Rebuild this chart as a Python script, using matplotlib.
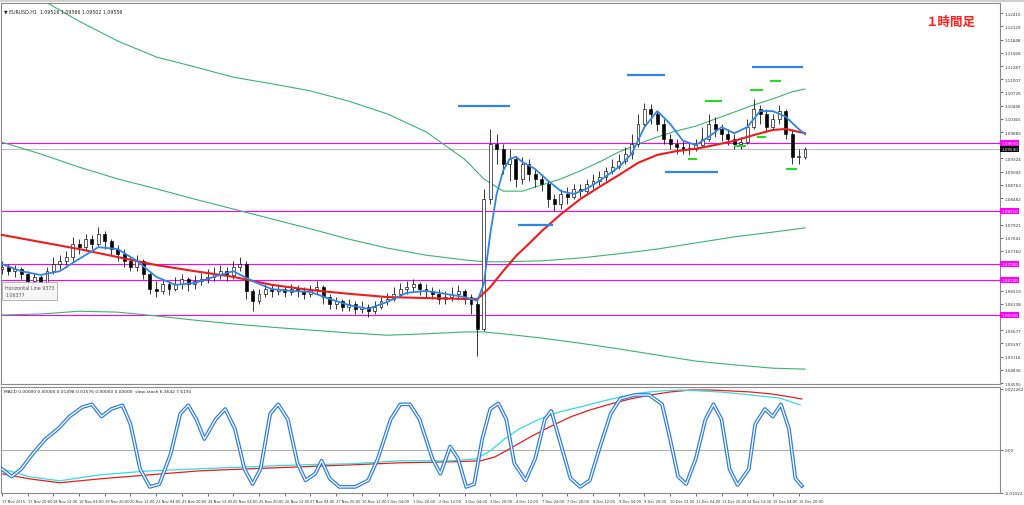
import matplotlib
matplotlib.use("Agg")
import matplotlib.pyplot as plt
import matplotlib.transforms as mtransforms
import numpy as np

# ---------------- data (EURUSD H1, sampled every 4 hours) ----------------
bar_hours = list(range(0, 504, 4))          # hours since 17 Nov 04:00 (trading hours)
open_first = 1.0698
closes = [1.0702, 1.0693, 1.0698, 1.0687, 1.0672, 1.0681, 1.0666, 1.0693, 1.0708, 1.0715,
          1.0723, 1.0751, 1.0744, 1.0761, 1.0751, 1.0772, 1.0757, 1.0740, 1.0730, 1.0715,
          1.0702, 1.0715, 1.0687, 1.0655, 1.0651, 1.0666, 1.0655, 1.0666, 1.0676, 1.0666,
          1.0672, 1.0676, 1.0681, 1.0687, 1.0693, 1.0685, 1.0702, 1.0708, 1.0651, 1.0630,
          1.0645, 1.0655, 1.0651, 1.0655, 1.0649, 1.0655, 1.0651, 1.0645, 1.0655, 1.0659,
          1.0638, 1.0623, 1.0630, 1.0617, 1.0623, 1.0613, 1.0617, 1.0608, 1.0617, 1.0630,
          1.0634, 1.0645, 1.0655, 1.0659, 1.0666, 1.0655, 1.0651, 1.0645, 1.0634, 1.0638,
          1.0645, 1.0651, 1.0638, 1.0623, 1.0570, 1.0846, 1.0963, 1.0953, 1.0921, 1.0931,
          1.0889, 1.0921, 1.0899, 1.0889, 1.0878, 1.0846, 1.0836, 1.0857, 1.0851, 1.0868,
          1.0863, 1.0878, 1.0885, 1.0893, 1.0906, 1.0914, 1.0927, 1.0942, 1.0963, 1.1006,
          1.1038, 1.1027, 1.1006, 1.0974, 1.0963, 1.0957, 1.0953, 1.0953, 1.0961, 1.0974,
          1.1006, 1.0995, 1.0984, 1.0974, 1.0963, 1.0967, 1.0999, 1.1038, 1.1027, 1.0999,
          1.1016, 1.1033, 1.0984, 1.0936, 1.0936, 1.0953]
highs = [1.0715, 1.0708, 1.0706, 1.0702, 1.0693, 1.0689, 1.0685, 1.0702, 1.0723, 1.0727,
         1.0736, 1.0766, 1.0761, 1.0772, 1.0770, 1.0787, 1.0778, 1.0761, 1.0749, 1.0740,
         1.0723, 1.0727, 1.0719, 1.0693, 1.0672, 1.0676, 1.0672, 1.0681, 1.0687, 1.0681,
         1.0685, 1.0689, 1.0698, 1.0702, 1.0706, 1.0702, 1.0715, 1.0723, 1.0715, 1.0655,
         1.0655, 1.0666, 1.0664, 1.0666, 1.0662, 1.0666, 1.0664, 1.0659, 1.0664, 1.0672,
         1.0664, 1.0645, 1.0638, 1.0634, 1.0634, 1.0630, 1.0630, 1.0623, 1.0630, 1.0638,
         1.0647, 1.0659, 1.0668, 1.0672, 1.0676, 1.0670, 1.0666, 1.0659, 1.0655, 1.0651,
         1.0659, 1.0664, 1.0655, 1.0645, 1.0634, 1.0868, 1.0995, 1.0984, 1.0963, 1.0953,
         1.0936, 1.0936, 1.0931, 1.0910, 1.0899, 1.0885, 1.0857, 1.0868, 1.0872, 1.0878,
         1.0878, 1.0889, 1.0899, 1.0906, 1.0914, 1.0931, 1.0942, 1.0957, 1.0984, 1.1027,
         1.1050, 1.1048, 1.1033, 1.1016, 1.0984, 1.0974, 1.0970, 1.0967, 1.0974, 1.0999,
         1.1027, 1.1021, 1.1006, 1.0995, 1.0984, 1.0978, 1.1016, 1.1059, 1.1046, 1.1038,
         1.1027, 1.1046, 1.1038, 1.0995, 1.0953, 1.0957]
lows = [1.0687, 1.0685, 1.0681, 1.0676, 1.0664, 1.0664, 1.0655, 1.0659, 1.0687, 1.0698,
        1.0706, 1.0715, 1.0730, 1.0736, 1.0740, 1.0744, 1.0740, 1.0727, 1.0715, 1.0702,
        1.0693, 1.0693, 1.0676, 1.0645, 1.0638, 1.0645, 1.0642, 1.0651, 1.0655, 1.0651,
        1.0655, 1.0664, 1.0668, 1.0672, 1.0676, 1.0672, 1.0676, 1.0693, 1.0634, 1.0608,
        1.0623, 1.0638, 1.0638, 1.0642, 1.0638, 1.0642, 1.0638, 1.0634, 1.0638, 1.0645,
        1.0623, 1.0613, 1.0613, 1.0608, 1.0608, 1.0602, 1.0604, 1.0596, 1.0602, 1.0613,
        1.0621, 1.0630, 1.0638, 1.0645, 1.0651, 1.0642, 1.0638, 1.0634, 1.0623, 1.0623,
        1.0630, 1.0634, 1.0623, 1.0602, 1.0513, 1.0566, 1.0836, 1.0921, 1.0899, 1.0885,
        1.0872, 1.0878, 1.0885, 1.0872, 1.0863, 1.0829, 1.0821, 1.0825, 1.0836, 1.0846,
        1.0851, 1.0857, 1.0868, 1.0876, 1.0885, 1.0899, 1.0910, 1.0921, 1.0931, 1.0957,
        1.0999, 1.1006, 1.0991, 1.0963, 1.0953, 1.0942, 1.0942, 1.0940, 1.0948, 1.0957,
        1.0970, 1.0978, 1.0970, 1.0961, 1.0953, 1.0953, 1.0963, 1.0995, 1.1006, 1.0991,
        1.0995, 1.1006, 1.0974, 1.0921, 1.0921, 1.0931]

# moving averages / bands (hours, price)
ma_fast_h = [0, 12, 24, 36, 48, 60, 72, 84, 96, 108, 120, 132, 144, 156, 168, 180, 192, 204,
             216, 228, 240, 252, 264, 276, 288, 296, 300, 304, 308, 312, 316, 320, 324, 332,
             340, 348, 356, 364, 372, 384, 392, 400, 408, 416, 424, 432, 440, 448, 456, 464,
             472, 480, 488, 496, 500]
ma_fast = [1.0708, 1.0693, 1.0685, 1.0693, 1.0719, 1.0744, 1.0740, 1.0715, 1.0681, 1.0664,
           1.0668, 1.0681, 1.0693, 1.0672, 1.0655, 1.0651, 1.0649, 1.0634, 1.0621, 1.0613,
           1.0628, 1.0647, 1.0651, 1.0645, 1.0638, 1.0630, 1.0666, 1.0772, 1.0857, 1.0906,
           1.0931, 1.0936, 1.0925, 1.0910, 1.0885, 1.0863, 1.0857, 1.0868, 1.0885, 1.0914,
           1.0942, 1.0999, 1.1033, 1.1006, 1.0970, 1.0961, 1.0978, 1.0999, 1.0986, 1.0999,
           1.1033, 1.1033, 1.1021, 1.0995, 1.0984]
ma_slow_h = [0, 24, 48, 72, 96, 120, 144, 168, 192, 216, 240, 264, 288, 296, 304, 312, 320,
             328, 336, 348, 360, 372, 384, 396, 408, 420, 432, 444, 456, 468, 480, 488, 496, 500]
ma_slow = [1.0770, 1.0755, 1.0740, 1.0723, 1.0706, 1.0693, 1.0681, 1.0664, 1.0653, 1.0645,
           1.0638, 1.0636, 1.0634, 1.0634, 1.0659, 1.0693, 1.0725, 1.0751, 1.0778, 1.0814,
           1.0846, 1.0872, 1.0897, 1.0923, 1.0940, 1.0948, 1.0953, 1.0961, 1.0970, 1.0982,
           1.0993, 1.0995, 1.0989, 1.0986]
band_h = [0, 24, 48, 72, 96, 120, 144, 168, 192, 216, 240, 264, 288, 300, 312, 336, 360, 384,
          408, 432, 456, 480, 500]
band_upper_h = [0, 24, 48, 72, 96, 120, 144, 168, 192, 216, 240, 264, 288, 300, 312, 324, 336,
                348, 360, 372, 384, 396, 408, 420, 432, 444, 456, 468, 480, 492, 500]
band_upper = [1.1324, 1.1271, 1.1224, 1.1182, 1.1148, 1.1127, 1.1105, 1.1091, 1.1076, 1.1054,
              1.1027, 1.0989, 1.0931, 1.0889, 1.0863, 1.0863, 1.0876, 1.0889, 1.0906, 1.0925,
              1.0946, 1.0963, 1.0978, 1.0991, 1.1001, 1.1016, 1.1031, 1.1046, 1.1059, 1.1074,
              1.1080]
band_mid = [1.0967, 1.0942, 1.0914, 1.0889, 1.0868, 1.0846, 1.0825, 1.0804, 1.0783, 1.0761,
            1.0742, 1.0727, 1.0717, 1.0713, 1.0713, 1.0715, 1.0721, 1.0730, 1.0740, 1.0753,
            1.0766, 1.0776, 1.0785]
band_lower = [1.0600, 1.0602, 1.0608, 1.0606, 1.0598, 1.0589, 1.0581, 1.0574, 1.0568, 1.0562,
              1.0557, 1.0560, 1.0564, 1.0564, 1.0560, 1.0551, 1.0540, 1.0528, 1.0515, 1.0502,
              1.0494, 1.0487, 1.0485]

# horizontal lines
hlines_magenta = [1.0965, 1.0821, 1.0708, 1.0674, 1.0600]
blue_levels = [1.1044, 1.1110, 1.1127, 1.0791, 1.0904]
blue_start = [284, 389, 467, 321, 413]
blue_end = [316, 413, 499, 343, 446]
green_levels = [1.1054, 1.1078, 1.1097, 1.0931, 1.0959, 1.0978, 1.0910]
green_start = [438, 466, 478, 427, 456, 470, 488]
green_end = [448, 474, 485, 433, 463, 476, 495]

# lower panel (stochastic 0-100, MACD lines on same pane)
stoch_h = [0, 6, 12, 19, 27, 35, 42, 50, 56, 62, 68, 75, 80, 86, 92, 98, 105, 111, 116, 121,
           126, 133, 139, 145, 151, 156, 161, 167, 172, 178, 184, 189, 195, 199, 204, 210, 220,
           228, 234, 242, 248, 254, 260, 268, 273, 279, 284, 289, 294, 299, 304, 309, 314, 319,
           326, 332, 338, 342, 347, 354, 360, 366, 372, 379, 385, 394, 403, 411, 416, 421, 426,
           432, 438, 443, 448, 453, 458, 465, 469, 475, 480, 485, 490, 494, 498]
stoch = [21, 13, 21, 37, 53, 64, 77, 87, 90, 77, 85, 89, 69, 21, 2, 5, 37, 80, 89, 74,
         53, 74, 85, 64, 21, 5, 21, 80, 90, 74, 27, 9, 16, 30, 11, 2, 2,
         9, 32, 74, 90, 90, 74, 32, 16, 45, 32, 2, 5, 53, 85, 91, 74, 27,
         9, 32, 74, 83, 53, 11, 2, 9, 43, 80, 96, 100, 100, 90, 53, 13, 5,
         32, 74, 90, 74, 21, 4, 21, 69, 85, 77, 90, 64, 11, 3]
macd_h = [0, 17, 36, 61, 92, 123, 154, 186, 217, 248, 279, 295, 304, 313, 322, 335, 347, 360,
          372, 385, 397, 410, 422, 435, 447, 460, 472, 484, 497]
macd_main = [21.3, 12.8, 8.5, 14.9, 19.1, 21.3, 23.4, 25.5, 26.6, 29.8, 29.8, 31.9, 40.4, 53.2,
             63.8, 74.5, 81.9, 87.2, 92.6, 97.9, 102.1, 104.3, 105.3, 104.3, 103.2, 101.1, 98.9,
             96.8, 89.4]
signal_h = [0, 17, 36, 61, 92, 123, 154, 186, 217, 248, 279, 298, 307, 316, 329, 341, 354,
            366, 379, 391, 404, 416, 429, 441, 454, 466, 479, 491, 498]
macd_signal = [16.0, 10.6, 6.4, 10.6, 14.9, 19.1, 21.3, 23.4, 25.5, 27.7, 28.7, 29.8, 34.0,
               42.6, 55.3, 66.0, 76.6, 84.0, 90.4, 95.7, 100.0, 103.2, 105.3, 105.3, 104.3,
               103.2, 101.1, 97.9, 95.7]

price_ticks = [1.04555, 1.04836, 1.05116, 1.05397, 1.05677, 1.05958, 1.06238, 1.06519, 1.06799,
               1.07080, 1.07360, 1.07641, 1.07921, 1.08202, 1.08482, 1.08763, 1.09043, 1.09324,
               1.09604, 1.09885, 1.10165, 1.10446, 1.10726, 1.11007, 1.11287, 1.11568, 1.11848,
               1.12129, 1.12410]
time_tick_h = list(range(0, 512, 16))
time_labels = ["17 Nov 2015", "17 Nov 20:00", "18 Nov 12:00", "19 Nov 04:00", "19 Nov 20:00",
               "20 Nov 12:00", "23 Nov 04:00", "23 Nov 20:00", "24 Nov 12:00", "25 Nov 04:00",
               "25 Nov 20:00", "26 Nov 12:00", "27 Nov 04:00", "27 Nov 20:00", "30 Nov 12:00",
               "1 Dec 04:00", "1 Dec 20:00", "2 Dec 12:00", "3 Dec 04:00", "3 Dec 20:00",
               "4 Dec 12:00", "7 Dec 04:00", "7 Dec 20:00", "8 Dec 12:00", "9 Dec 04:00",
               "9 Dec 20:00", "10 Dec 12:00", "11 Dec 04:00", "11 Dec 20:00", "14 Dec 12:00",
               "15 Dec 04:00", "15 Dec 20:00"]
lower_ticks = [106.4, 41.5, -4.2]
lower_tick_labels = ["0.021262", "0.00", "-0.01022"]

header_main = "\u25bc EURUSD,H1  1.09516 1.09566 1.09502 1.09556"
header_lower = "MACD 0.00000 0.00000 0.01498 0.01576 0.00000 0.00000  slow-stoch 6.3642 7.6191"
title_jp = "１時間足"
tooltip = "Horizontal Line 9373\n1.06377"

# ---------------- drawing ----------------
W, H = 1024, 506
fig = plt.figure(figsize=(W / 100, H / 100), dpi=100)
fig.patch.set_facecolor("white")

def fx(px):
    return px / W

ax = fig.add_axes([fx(1), 1 - 385 / H, fx(999), 381 / H])
ax2 = fig.add_axes([fx(1), 1 - 494 / H, fx(999), 106 / H])

xlim = (-0.62, 621.4)
for a in (ax, ax2):
    a.set_xlim(*xlim)
    a.set_facecolor("white")
    for s in a.spines.values():
        s.set_color("#8a8a8a")
        s.set_linewidth(0.8)

ylim_main = (1.04534, 1.12626)
ax.set_ylim(*ylim_main)
ax2.set_ylim(-4.5, 108.5)

# bands and MAs
green = "#3cb371"
ax.plot(band_upper_h, band_upper, color=green, lw=0.8, zorder=2)
ax.plot(band_h, band_mid, color=green, lw=0.8, zorder=2)
ax.plot(band_h, band_lower, color=green, lw=0.8, zorder=2)

# horizontal magenta lines and current price
for lv in hlines_magenta:
    ax.axhline(lv, color="#ff00ff", lw=0.8, zorder=1)
ax.axhline(closes[-1], color="#a0a0a0", lw=0.5, zorder=1)

# candles
opens = [open_first] + closes[:-1]
bw = 1.8
for t, o, h, l, c in zip(bar_hours, opens, highs, lows, closes):
    hi = max(h, o, c)
    lo = min(l, o, c)
    ax.vlines(t, lo, hi, color="black", lw=0.55, zorder=3)
    bottom = min(o, c)
    height = max(abs(c - o), 0.00006)
    up = c >= o
    ax.bar(t, height, width=bw, bottom=bottom, color="white" if up else "black",
           edgecolor="black", linewidth=0.45, zorder=4)

ax.plot(ma_slow_h, ma_slow, color="#ee1c1c", lw=1.5, zorder=5)
ax.plot(ma_fast_h, ma_fast, color="#2f86e8", lw=1.3, zorder=6)

# drawn levels
for lv, s, e in zip(blue_levels, blue_start, blue_end):
    ax.hlines(lv, s, e, color="#2f86e8", lw=1.6, zorder=6)
for lv, s, e in zip(green_levels, green_start, green_end):
    ax.hlines(lv, s, e, color="#22dd22", lw=1.5, zorder=6)

# axis ticks (labels hidden where a price box covers them)
px_per_price = 381 / (ylim_main[1] - ylim_main[0])
boxed = hlines_magenta + [closes[-1]]
ax.yaxis.tick_right()
ax.set_yticks(price_ticks)
ax.set_yticklabels(["" if min(abs(v - b) for b in boxed) * px_per_price < 6 else f"{v:.5f}"
                    for v in price_ticks])
ax.tick_params(axis="y", labelsize=3.0, length=2, width=0.5, pad=1.5, colors="#333333")
ax.set_xticks([])

trans = mtransforms.blended_transform_factory(ax.transAxes, ax.transData)
for lv in hlines_magenta:
    ax.text(1.0015, lv, f"{lv:.5f}", transform=trans, fontsize=3.0, color="white",
            va="center", ha="left", zorder=10, clip_on=False,
            bbox=dict(boxstyle="square,pad=0.25", fc="#ff00ff", ec="none"))
ax.text(1.0015, closes[-1], f"{closes[-1]:.5f}", transform=trans, fontsize=3.0, color="white",
        va="center", ha="left", zorder=10, clip_on=False,
        bbox=dict(boxstyle="square,pad=0.25", fc="black", ec="none"))

ax.text(0.003, 0.987, header_main, transform=ax.transAxes, fontsize=3.4, color="#222222",
        va="top", ha="left")
ax.text(0.950, 0.952, title_jp, transform=ax.transAxes, fontsize=9, color="#ff2020",
        fontweight="bold", family=["Noto Sans CJK JP", "DejaVu Sans"], ha="center", va="center")

fig.text(fx(5), 1 - 286 / H, tooltip, fontsize=3.4, color="#555555", va="top", ha="left",
         linespacing=1.5,
         bbox=dict(boxstyle="square,pad=0.6", fc="#f6f6f6", ec="#9a9a9a", lw=0.5))

# lower panel
ax2.axhline(41.5, color="#a0a0a0", lw=0.6, zorder=1)
ax2.plot(signal_h, macd_signal, color="#ee1c1c", lw=0.9, zorder=2)
ax2.plot(macd_h, macd_main, color="#33dddd", lw=0.9, zorder=3)
ax2.plot(stoch_h, stoch, color="#2f7fe6", lw=2.7, zorder=4, solid_joinstyle="round")
ax2.plot(stoch_h, stoch, color="white", lw=0.9, zorder=5, solid_joinstyle="round")

ax2.yaxis.tick_right()
ax2.set_yticks(lower_ticks)
ax2.set_yticklabels(lower_tick_labels)
ax2.tick_params(axis="y", labelsize=3.0, length=2, width=0.5, pad=1.5, colors="#333333")
ax2.set_xticks(time_tick_h)
ax2.set_xticklabels(time_labels)
ax2.tick_params(axis="x", labelsize=2.6, length=2.5, width=0.5, pad=1.5, colors="#333333")
for lab in ax2.get_xticklabels():
    lab.set_ha("left")
ax2.text(0.003, 0.985, header_lower, transform=ax2.transAxes, fontsize=3.2, color="#222222",
         va="top", ha="left")

# top strip
fig.patches.append(plt.Rectangle((0, 1 - 3 / H), 1, 3 / H, transform=fig.transFigure,
                                 fc="#d0d0d0", ec="none"))

fig.savefig("out.png", dpi=100)
